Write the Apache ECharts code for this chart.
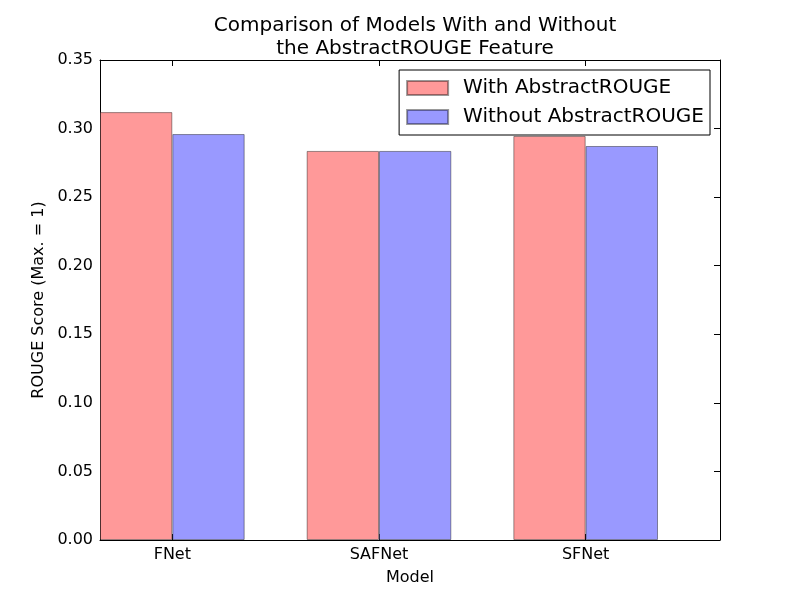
<!DOCTYPE html>
<html><head><meta charset="utf-8">
<script src="https://cdn.jsdelivr.net/npm/echarts@6/dist/echarts.min.js"></script>
<style>html,body{margin:0;padding:0;background:#fff}#c{width:800px;height:600px}</style>
</head><body><div id="c"></div>
<script>
const categories = ['FNet', 'SAFNet', 'SFNet'];
const withValues = [0.312, 0.2837, 0.2946];
const withoutValues = [0.296, 0.2837, 0.2873];
const yTicks = [0, 0.05, 0.10, 0.15, 0.20, 0.25, 0.30, 0.35];

const groupPos = categories.map((c, i) => i + 0.35);
const font = 'DejaVu Sans';
const chart = echarts.init(document.getElementById('c'), null, {renderer: 'canvas'});
const xCommon = {
  type: 'value', min: 0, max: 3,
  splitLine: {show: false},
  axisLine: {show: true, onZero: false, lineStyle: {color: '#000', width: 1}},
};
chart.setOption({
  animation: false,
  title: {
    text: 'Comparison of Models With and Without\nthe AbstractROUGE Feature',
    left: 410, top: 9, textAlign: 'center',
    textStyle: {fontFamily: font, fontSize: 20, fontWeight: 'normal', color: '#000', lineHeight: 23}
  },
  legend: {
    orient: 'vertical', right: 90, top: 70,
    borderColor: '#000', borderWidth: 1, borderRadius: 0,
    padding: [8, 6, 8, 7], itemGap: 9,
    itemWidth: 41, itemHeight: 14, icon: 'rect',
    textStyle: {fontFamily: font, fontSize: 20, color: '#000', padding: [0, 0, 0, 10]},
    data: ['With AbstractROUGE', 'Without AbstractROUGE']
  },
  grid: {left: 100, right: 80, top: 60, bottom: 60},
  xAxis: [
    Object.assign({}, xCommon, {
      position: 'bottom',
      name: 'Model', nameLocation: 'middle', nameGap: 30,
      nameTextStyle: {fontFamily: font, fontSize: 16, color: '#000'},
      axisTick: {show: true, inside: true, length: 6, lineStyle: {color: '#000'}, customValues: groupPos},
      axisLabel: {show: true, customValues: groupPos, fontFamily: font, fontSize: 16, color: '#000', margin: 7,
        formatter: v => categories[Math.round(v - 0.35)]}
    }),
    Object.assign({}, xCommon, {
      position: 'top',
      axisTick: {show: true, inside: true, length: 6, lineStyle: {color: '#000'}, customValues: groupPos},
      axisLabel: {show: false}
    })
  ],
  yAxis: [
    {
      type: 'value', min: 0, max: 0.35, interval: 0.05, position: 'left',
      name: 'ROUGE Score (Max. = 1)', nameLocation: 'middle', nameGap: 47,
      nameTextStyle: {fontFamily: font, fontSize: 16, color: '#000'},
      splitLine: {show: false},
      axisLine: {show: true, onZero: false, lineStyle: {color: '#000'}},
      axisTick: {show: true, inside: true, length: 6, lineStyle: {color: '#000'}},
      axisLabel: {fontFamily: font, fontSize: 16, color: '#000', margin: 7, formatter: v => v.toFixed(2)}
    },
    {
      type: 'value', min: 0, max: 0.35, interval: 0.05, position: 'right',
      splitLine: {show: false},
      axisLine: {show: true, onZero: false, lineStyle: {color: '#000'}},
      axisTick: {show: true, inside: true, length: 6, lineStyle: {color: '#000'}},
      axisLabel: {show: false}
    }
  ],
  series: [
    {
      name: 'With AbstractROUGE', type: 'bar', xAxisIndex: 0, yAxisIndex: 0,
      barWidth: '35%', barGap: '0%',
      itemStyle: {color: '#ff9999', borderColor: 'rgba(0,0,0,0.4)', borderWidth: 1},
      data: withValues.map((v, i) => [groupPos[i], v])
    },
    {
      name: 'Without AbstractROUGE', type: 'bar', xAxisIndex: 0, yAxisIndex: 0,
      barWidth: '35%', barGap: '0%',
      itemStyle: {color: '#9999ff', borderColor: 'rgba(0,0,0,0.4)', borderWidth: 1},
      data: withoutValues.map((v, i) => [groupPos[i], v])
    }
  ]
});
</script></body></html>
